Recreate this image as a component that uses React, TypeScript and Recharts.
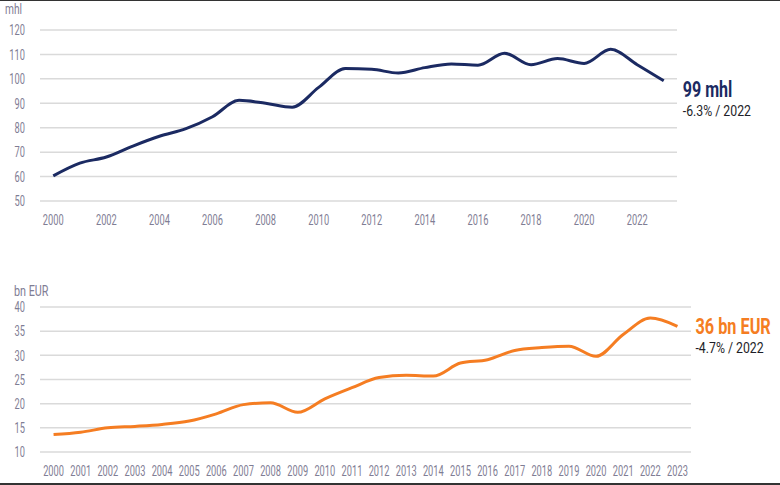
import { LineChart, Line, XAxis, YAxis, CartesianGrid, ReferenceDot } from 'recharts'

const years = [2000, 2001, 2002, 2003, 2004, 2005, 2006, 2007, 2008, 2009, 2010, 2011, 2012, 2013, 2014, 2015, 2016, 2017, 2018, 2019, 2020, 2021, 2022, 2023]

// Production volume, million hectolitres
const volume = [60.3, 65.5, 68, 72.5, 76.5, 79.6, 84.5, 91.2, 90, 88.4, 96.5, 104.2, 103.9, 102.4, 104.6, 106.1, 105.6, 110.5, 105.8, 108.3, 106.3, 112.1, 105.8, 99.2]

// Value, bn EUR
const value = [13.6, 14.1, 15.0, 15.3, 15.7, 16.4, 17.9, 19.8, 20.2, 18.2, 21.0, 23.3, 25.4, 25.9, 25.7, 28.4, 29.1, 31.0, 31.6, 31.9, 29.8, 34.3, 37.7, 36.0]

const volumeTicks = [50, 60, 70, 80, 90, 100, 110, 120]
const valueTicks = [10, 15, 20, 25, 30, 35, 40]
const volumeYearTicks = [2000, 2002, 2004, 2006, 2008, 2010, 2012, 2014, 2016, 2018, 2020, 2022]

const volumeHeadline = '99 mhl'
const volumeChange = '-6.3% / 2022'
const valueHeadline = '36 bn EUR'
const valueChange = '-4.7% / 2022'

const NAVY = '#1b2a62'
const ORANGE = '#f57d22'
const TICK = '#7f7d94'
const GRID = '#dadada'
const FONT = 'Roboto, "DejaVu Sans", sans-serif'
const SQUEEZE = 0.64

const data = years.map((year, i) => ({ year, volume: volume[i], value: value[i] }))

// the source uses a condensed face, so squeeze a regular one horizontally
function CondText({ x, y, children, anchor = 'start', size = 14.5, color = TICK, weight = 400, scale = SQUEEZE, dy = 0 }: any) {
  return (
    <text
      transform={`translate(${x},${y}) scale(${scale},1)`}
      textAnchor={anchor}
      dy={dy}
      fontFamily={FONT}
      fontSize={size}
      fontWeight={weight}
      fill={color}
    >
      {children}
    </text>
  )
}

const XTick = (props: any) => (
  <CondText x={props.x} y={props.y} anchor="middle" dy="0.72em">{props.payload.value}</CondText>
)

const YTick = (props: any) => (
  <CondText x={props.x} y={props.y} anchor="end" dy="0.36em">{props.payload.value}</CondText>
)

function endLabel(headline: string, change: string, color: string, dx: number, dy: number, hs: number) {
  return (props: any) => {
    const { viewBox } = props
    const x = viewBox.x + dx
    const y = viewBox.y + dy
    return (
      <g>
        <CondText x={x} y={y} size={22} weight={700} color={color} scale={hs}>{headline}</CondText>
        <CondText x={x} y={y + 19} size={15} color="#1e1e28" scale={0.82}>{change}</CondText>
      </g>
    )
  }
}

export default function App() {
  const last = data[data.length - 1]
  return (
    <div
      style={{
        position: 'absolute',
        left: 0,
        top: 0,
        width: 780,
        height: 485,
        background: '#fff',
        borderTop: '1px solid #333',
        borderBottom: '2px solid #333',
        boxSizing: 'border-box'
      }}
    >
      <svg style={{ position: 'absolute', left: 0, top: 0 }} width={780} height={300}>
        <CondText x={5} y={13} size={15} scale={0.68}>mhl</CondText>
        <CondText x={14} y={295} size={15} scale={0.72}>bn EUR</CondText>
      </svg>
      <div style={{ position: 'absolute', left: 0, top: -1 }}>
        <LineChart width={780} height={240} data={data} margin={{ top: 30, right: 103, left: 0, bottom: 9 }}>
          <CartesianGrid vertical={false} stroke={GRID} strokeWidth={1.5} />
          <XAxis
            dataKey="year"
            type="number"
            domain={[1999.5, 2023.5]}
            ticks={volumeYearTicks}
            axisLine={false}
            tickLine={false}
            tick={<XTick />}
            tickMargin={8}
            height={30}
          />
          <YAxis
            domain={[50, 120]}
            ticks={volumeTicks}
            axisLine={false}
            tickLine={false}
            tick={<YTick />}
            tickSize={0}
            tickMargin={15}
            width={40}
          />
          <Line type="monotone" dataKey="volume" stroke={NAVY} strokeWidth={3} dot={false} isAnimationActive={false} />
          <ReferenceDot
            x={last.year}
            y={last.volume}
            r={0}
            stroke="none"
            label={endLabel(volumeHeadline, volumeChange, NAVY, 19, 16, 0.73)}
          />
        </LineChart>
      </div>

      <div style={{ position: 'absolute', left: 0, top: 250 }}>
        <LineChart width={780} height={233} data={data} margin={{ top: 56, right: 89, left: 0, bottom: 2 }}>
          <CartesianGrid vertical={false} stroke={GRID} strokeWidth={1.5} />
          <XAxis
            dataKey="year"
            type="number"
            domain={[1999.5, 2023.5]}
            ticks={years}
            interval={0}
            axisLine={false}
            tickLine={false}
            tick={<XTick />}
            tickMargin={8}
            height={30}
          />
          <YAxis
            domain={[10, 40]}
            ticks={valueTicks}
            axisLine={false}
            tickLine={false}
            tick={<YTick />}
            tickSize={0}
            tickMargin={15}
            width={40}
          />
          <Line type="monotone" dataKey="value" stroke={ORANGE} strokeWidth={3} dot={false} isAnimationActive={false} />
          <ReferenceDot
            x={last.year}
            y={last.value}
            r={0}
            stroke="none"
            label={endLabel(valueHeadline, valueChange, ORANGE, 18, 8, 0.74)}
          />
        </LineChart>
      </div>
    </div>
  )
}
